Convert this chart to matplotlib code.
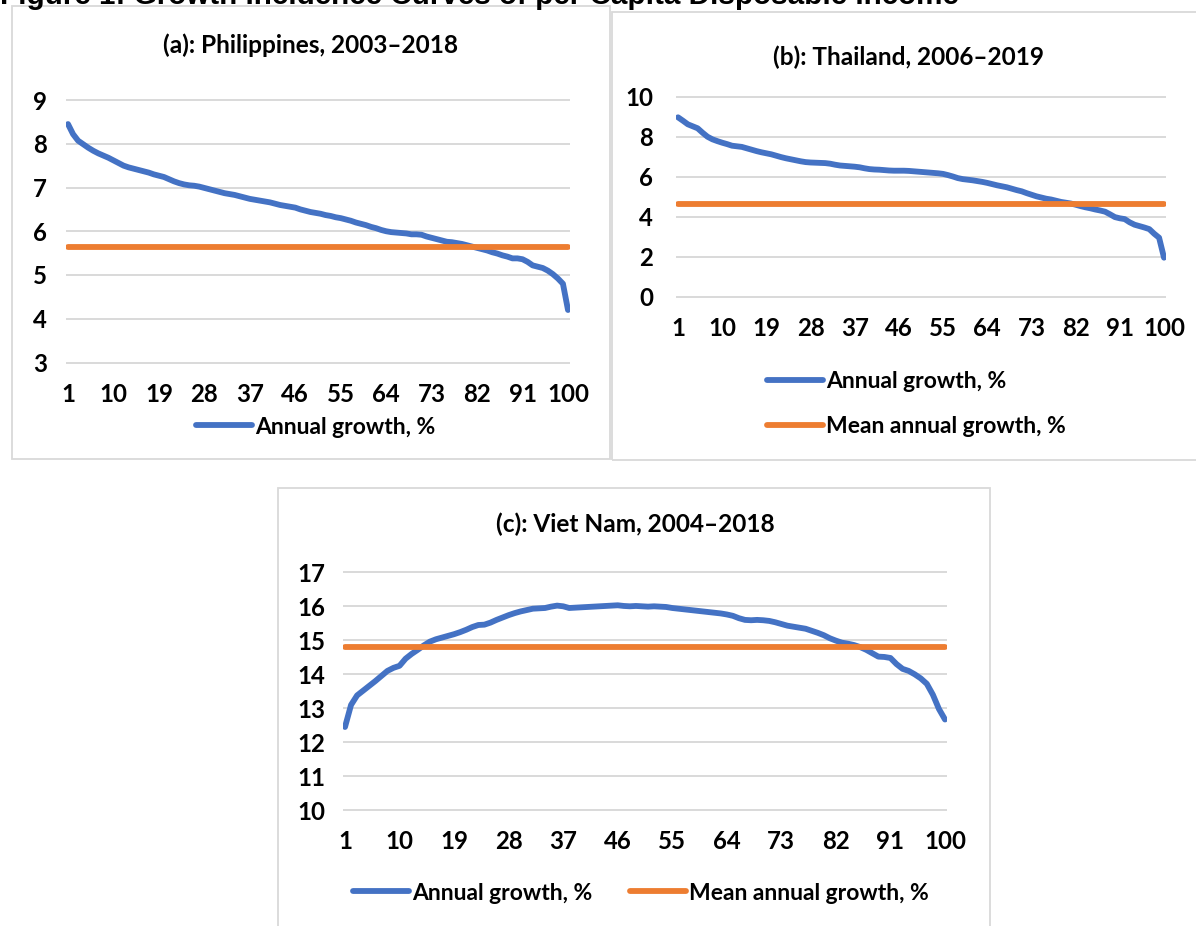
import numpy as np
import matplotlib
matplotlib.use("Agg")
import matplotlib.pyplot as plt
from matplotlib.patches import Rectangle
from matplotlib.lines import Line2D

plt.rcParams['font.family'] = ['Lato', 'DejaVu Sans']

# percentiles 1..100
pct = np.arange(1, 101)
xtick_vals = [1, 10, 19, 28, 37, 46, 55, 64, 73, 82, 91, 100]

# (a) Philippines, 2003-2018
ph_growth = [8.45, 8.22, 8.07, 7.99, 7.91, 7.84, 7.78, 7.73, 7.68, 7.62,
             7.56, 7.50, 7.46, 7.43, 7.40, 7.37, 7.34, 7.30, 7.27, 7.24,
             7.19, 7.14, 7.10, 7.07, 7.05, 7.04, 7.02, 6.99, 6.96, 6.93,
             6.90, 6.87, 6.85, 6.83, 6.80, 6.77, 6.74, 6.72, 6.70, 6.68,
             6.66, 6.63, 6.60, 6.58, 6.56, 6.54, 6.50, 6.47, 6.44, 6.42,
             6.40, 6.37, 6.35, 6.32, 6.30, 6.27, 6.24, 6.20, 6.17, 6.14,
             6.10, 6.07, 6.03, 6.00, 5.98, 5.97, 5.96, 5.95, 5.93, 5.93,
             5.92, 5.88, 5.85, 5.82, 5.79, 5.76, 5.75, 5.73, 5.71, 5.68,
             5.65, 5.62, 5.59, 5.56, 5.52, 5.49, 5.45, 5.42, 5.38, 5.38,
             5.36, 5.30, 5.22, 5.19, 5.16, 5.10, 5.02, 4.92, 4.80, 4.20]
ph_mean = 5.65

# (b) Thailand, 2006-2019
th_growth = [8.97, 8.80, 8.62, 8.52, 8.42, 8.20, 8.00, 7.87, 7.78, 7.70,
             7.63, 7.55, 7.52, 7.49, 7.42, 7.35, 7.28, 7.22, 7.17, 7.12,
             7.05, 6.98, 6.92, 6.87, 6.82, 6.77, 6.73, 6.71, 6.70, 6.69,
             6.68, 6.65, 6.60, 6.56, 6.54, 6.52, 6.50, 6.47, 6.42, 6.38,
             6.36, 6.35, 6.33, 6.31, 6.30, 6.30, 6.30, 6.29, 6.27, 6.25,
             6.23, 6.21, 6.19, 6.17, 6.14, 6.08, 6.01, 5.93, 5.88, 5.85,
             5.82, 5.78, 5.74, 5.69, 5.63, 5.57, 5.52, 5.47, 5.40, 5.33,
             5.27, 5.18, 5.10, 5.02, 4.96, 4.90, 4.86, 4.80, 4.74, 4.70,
             4.66, 4.60, 4.53, 4.47, 4.42, 4.36, 4.31, 4.25, 4.12, 3.98,
             3.92, 3.88, 3.72, 3.60, 3.53, 3.46, 3.38, 3.15, 2.95, 1.95]
th_mean = 4.65

# (c) Viet Nam, 2004-2018
vn_growth = [12.45, 13.10, 13.38, 13.52, 13.66, 13.80, 13.95, 14.10, 14.19, 14.25,
             14.46, 14.60, 14.72, 14.85, 14.96, 15.03, 15.08, 15.13, 15.18, 15.24,
             15.31, 15.39, 15.45, 15.46, 15.52, 15.60, 15.67, 15.74, 15.80, 15.85,
             15.89, 15.93, 15.94, 15.95, 15.99, 16.02, 16.00, 15.95, 15.96, 15.97,
             15.98, 15.99, 16.00, 16.01, 16.02, 16.03, 16.01, 16.00, 16.01, 16.00,
             15.99, 16.00, 15.99, 15.98, 15.95, 15.93, 15.91, 15.89, 15.87, 15.85,
             15.83, 15.81, 15.79, 15.76, 15.72, 15.65, 15.60, 15.59, 15.60, 15.59,
             15.57, 15.53, 15.48, 15.43, 15.40, 15.37, 15.34, 15.28, 15.22, 15.15,
             15.06, 14.99, 14.93, 14.90, 14.86, 14.80, 14.72, 14.62, 14.52, 14.51,
             14.48, 14.30, 14.16, 14.10, 14.00, 13.88, 13.72, 13.40, 12.98, 12.67]
vn_mean = 14.8

BLUE = '#4472C4'
ORANGE = '#ED7D31'
GRID = '#D9D9D9'
FS = 17.3      # tick labels
LFS = 16.5     # legend

W, H = 1196, 926
fig = plt.figure(figsize=(W / 100, H / 100), dpi=100)


def px_axes(x1, x100, ylo_px, yhi_px, ylo, yhi):
    # place an axes so that data lands on the given pixel positions
    sx = (x100 - x1) / 99.0
    sy = (ylo_px - yhi_px) / float(yhi - ylo)
    left, right = x1 - 2.0, x100 + 2.0
    top, bottom = yhi_px - 2.0, ylo_px + 2.0
    ax = fig.add_axes([left / W, 1 - bottom / H, (right - left) / W, (bottom - top) / H])
    ax.set_xlim(1 - 2.0 / sx, 100 + 2.0 / sx)
    ax.set_ylim(ylo - 2.0 / sy, yhi + 2.0 / sy)
    return ax


def draw(ax, growth, mean, yticks, ypad, xpad):
    ax.plot(pct, growth, color=BLUE, lw=4.2, solid_capstyle='round', solid_joinstyle='round')
    ax.plot(pct, [mean] * len(pct), color=ORANGE, lw=4.2, solid_capstyle='round')
    ax.set_xticks(xtick_vals)
    ax.set_xticklabels([str(v) for v in xtick_vals])
    ax.set_yticks(yticks)
    ax.set_yticklabels([str(v) for v in yticks])
    for s in ax.spines.values():
        s.set_visible(False)
    ax.tick_params(length=0, labelsize=FS)
    ax.tick_params(axis='y', pad=ypad)
    ax.tick_params(axis='x', pad=xpad)
    for lab in ax.get_xticklabels() + ax.get_yticklabels():
        lab.set_fontweight('bold')
    ax.grid(axis='y', color=GRID, lw=1.4)
    ax.set_axisbelow(True)
    ax.patch.set_alpha(0)


def box(x0, y0, x1, y1):
    fig.add_artist(Rectangle((x0 / W, 1 - y1 / H), (x1 - x0) / W, (y1 - y0) / H,
                             transform=fig.transFigure, fill=False, ec=GRID, lw=1.3))


def legend(handles, labels, x, y, ncol=1, spacing=1.05, colsp=1.62):
    fig.legend(handles, labels, loc='center left', bbox_to_anchor=(x / W, 1 - y / H),
               frameon=False, ncol=ncol, prop=dict(weight='bold', size=LFS),
               handlelength=2.45, handletextpad=0.13, borderpad=0, borderaxespad=0,
               labelspacing=spacing, columnspacing=colsp)


h_blue = Line2D([], [], color=BLUE, lw=4.2, solid_capstyle='round')
h_orange = Line2D([], [], color=ORANGE, lw=4.2, solid_capstyle='round')

# header, partly cut off at the top
fig.text(0.0, 1 - 4 / H, "Figure 1: Growth Incidence Curves of per Capita Disposable Income",
         fontsize=21.3, fontweight='bold', family=['Liberation Sans', 'DejaVu Sans'],
         ha='left', va='baseline')

# boxes around each chart
box(12, 6, 610, 459)
box(612, 12, 1205, 460)
box(278, 488, 990, 935)

# (a)
ax_a = px_axes(68, 568, 362.5, 100, 3, 9)
draw(ax_a, ph_growth, ph_mean, [3, 4, 5, 6, 7, 8, 9], 13.5, 13)
fig.text(311 / W, 1 - 45 / H, "(a): Philippines, 2003\u20132018", fontsize=17.6,
         fontweight='bold', ha='center', va='center')
legend([h_blue], ["Annual growth, %"], 196, 427)

# (b)
ax_b = px_axes(678, 1164, 296.7, 96.7, 0, 10)
draw(ax_b, th_growth, th_mean, [0, 2, 4, 6, 8, 10], 16.5, 13)
fig.text(908 / W, 1 - 57 / H, "(b): Thailand, 2006\u20132019", fontsize=17.6,
         fontweight='bold', ha='center', va='center')
legend([h_blue, h_orange], ["Annual growth, %", "Mean annual growth, %"], 767, 404)

# (c)
ax_c = px_axes(345, 945, 810.3, 572.3, 10, 17)
draw(ax_c, vn_growth, vn_mean, [10, 11, 12, 13, 14, 15, 16, 17], 12.5, 13)
fig.text(635 / W, 1 - 524 / H, "(c): Viet Nam, 2004\u20132018", fontsize=17.6,
         fontweight='bold', ha='center', va='center')
legend([h_blue, h_orange], ["Annual growth, %", "Mean annual growth, %"], 353, 893,
       ncol=2)

fig.savefig("out.png", dpi=100)
